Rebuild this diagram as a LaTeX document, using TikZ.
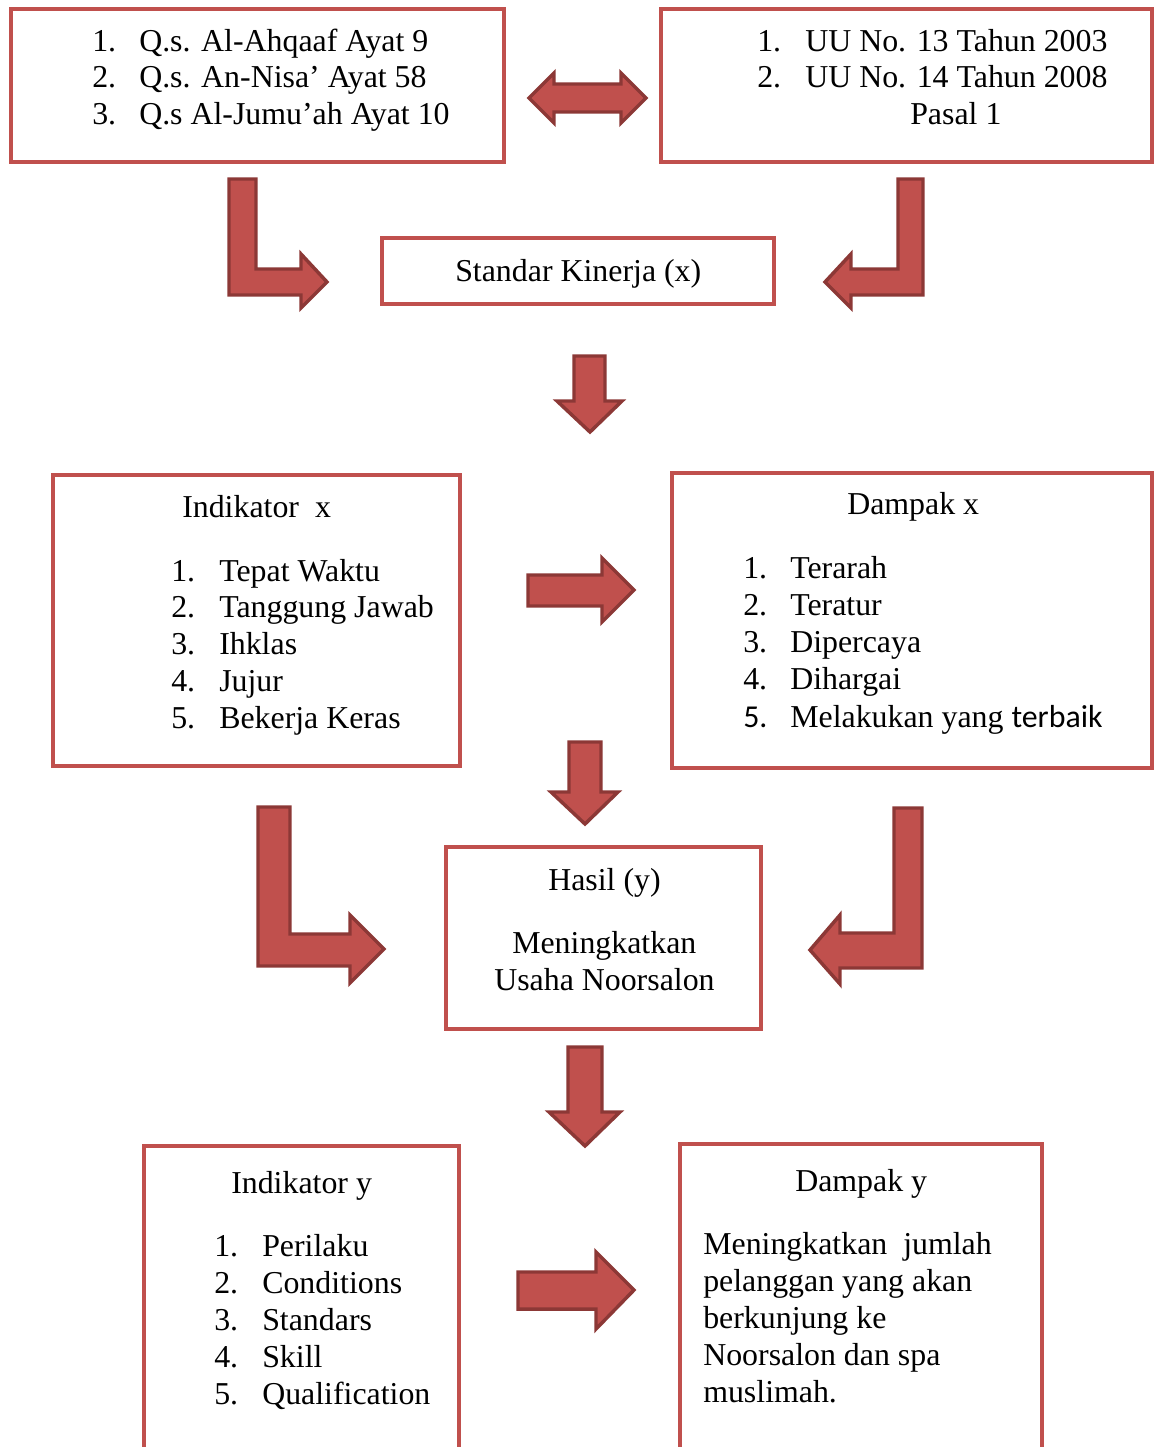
\documentclass[tikz,border=0pt]{standalone}
\usepackage{fontspec}
\setmainfont{Liberation Serif}
\newfontfamily\calib{Carlito}
\definecolor{boxred}{HTML}{C0504D}
\definecolor{arrowedge}{HTML}{8C3836}
\begin{document}
\begin{tikzpicture}[x=0.75pt,y=-0.75pt,
  box/.style={draw=boxred,line width=3pt,fill=none,inner sep=0pt},
  blockarrow/.style={fill=boxred,draw=arrowedge,line width=2.6pt,line join=miter},
  txt/.style={anchor=base west,inner sep=0pt,font=\fontsize{23.9}{27.75}\selectfont}]
\useasboundingbox (0,0) rectangle (1154,1447);
% boxes
\draw[box] (11,9) rectangle (504,162);
\draw[box] (661,9) rectangle (1152,162);
\draw[box] (382,238) rectangle (774,304);
\draw[box] (53,475) rectangle (460,766);
\draw[box] (672,473) rectangle (1152,768);
\draw[box] (446,847) rectangle (761,1029);
\draw[box] (144,1146) rectangle (459,1470);
\draw[box] (680,1144) rectangle (1042,1470);
% texts box 1
\node[txt] (t11n) at (92,51) {1.};
\node[txt] (t11) at (139,51) {Q.s. Al-Ahqaaf Ayat 9};
\node[txt] (t12n) at (92,87) {2.};
\node[txt] (t12) at (139,87) {Q.s. An-Nisa’ Ayat 58};
\node[txt] (t13n) at (92,124) {3.};
\node[txt] (t13) at (139,124) {Q.s Al-Jumu’ah Ayat 10};
% box 2
\node[txt] (t21n) at (757,51) {1.};
\node[txt] (t21) at (805,51) {UU No. 13 Tahun 2003};
\node[txt] (t22n) at (757,87) {2.};
\node[txt] (t22) at (805,87) {UU No. 14 Tahun 2008};
\node[txt] (t23) at (910,124) {Pasal 1};
% standar
\node[txt] (sk) at (455,281) {Standar Kinerja (x)};
% indikator x
\node[txt] (ix) at (182,517) {Indikator\ \ x};
\node[txt] at (171,581) {1.};
\node[txt] at (219,581) {Tepat Waktu};
\node[txt] at (171,617) {2.};
\node[txt] at (219,617) {Tanggung Jawab};
\node[txt] at (171,654) {3.};
\node[txt] at (219,654) {Ihklas};
\node[txt] at (171,691) {4.};
\node[txt] at (219,691) {Jujur};
\node[txt] at (171,728) {5.};
\node[txt] at (219,728) {Bekerja Keras};
% dampak x
\node[txt] (dx) at (847,514) {Dampak x};
\node[txt] at (743,578) {1.};
\node[txt] at (790,578) {Terarah};
\node[txt] at (743,615) {2.};
\node[txt] at (790,615) {Teratur};
\node[txt] at (743,652) {3.};
\node[txt] at (790,652) {Dipercaya};
\node[txt] at (743,689) {4.};
\node[txt] at (790,689) {Dihargai};
\node[txt] at (743,727) {\calib 5.};
\node[txt] at (790,727) {Melakukan yang {\calib terbaik}};
% hasil
\node[txt] (hy) at (548,890) {Hasil (y)};
\node[txt] at (512,953) {Meningkatkan};
\node[txt] at (494,990) {Usaha Noorsalon};
% indikator y
\node[txt] (iy) at (231,1193) {Indikator y};
\node[txt] at (214,1256) {1.};
\node[txt] at (262,1256) {Perilaku};
\node[txt] at (214,1293) {2.};
\node[txt] at (262,1293) {Conditions};
\node[txt] at (214,1330) {3.};
\node[txt] at (262,1330) {Standars};
\node[txt] at (214,1367) {4.};
\node[txt] at (262,1367) {Skill};
\node[txt] at (214,1404) {5.};
\node[txt] at (262,1404) {Qualification};
% dampak y
\node[txt] (dy) at (795,1191) {Dampak y};
\node[txt] at (703,1254) {Meningkatkan\ \ jumlah};
\node[txt] at (703,1291) {pelanggan yang akan};
\node[txt] at (703,1328) {berkunjung ke};
\node[txt] at (703,1365) {Noorsalon dan spa};
\node[txt] at (703,1402) {muslimah.};
% block arrows
\draw[blockarrow] (529,98) -- (554,73) -- (554,84) -- (621,84) -- (621,73) -- (646,98) -- (621,123) -- (621,112) -- (554,112) -- (554,123) -- cycle;
\draw[blockarrow] (229,179) -- (256,179) -- (256,269) -- (301,269) -- (301,254) -- (327,282) -- (301,308) -- (301,295) -- (229,295) -- cycle;
\draw[blockarrow] (923,179) -- (923,295) -- (851,295) -- (851,308) -- (825,282) -- (851,254) -- (851,269) -- (898,269) -- (898,179) -- cycle;
\draw[blockarrow] (574,356) -- (605,356) -- (605,401) -- (622,401) -- (590,432) -- (557,401) -- (574,401) -- cycle;
\draw[blockarrow] (528,575) -- (602,575) -- (602,558) -- (634,590) -- (602,622) -- (602,606) -- (528,606) -- cycle;
\draw[blockarrow] (569,742) -- (601,742) -- (601,792) -- (618,792) -- (585,824) -- (551,792) -- (569,792) -- cycle;
\draw[blockarrow] (258,807) -- (290,807) -- (290,934) -- (350,934) -- (350,915) -- (384,949) -- (350,983) -- (350,966) -- (258,966) -- cycle;
\draw[blockarrow] (922,808) -- (922,968) -- (840,968) -- (840,984) -- (810,950) -- (840,915) -- (840,933) -- (894,933) -- (894,808) -- cycle;
\draw[blockarrow] (568,1047) -- (602,1047) -- (602,1112) -- (620,1112) -- (585,1146) -- (549,1112) -- (568,1112) -- cycle;
\draw[blockarrow] (518,1272) -- (596,1272) -- (596,1252) -- (634,1290) -- (596,1329) -- (596,1309) -- (518,1309) -- cycle;
\end{tikzpicture}
\end{document}
